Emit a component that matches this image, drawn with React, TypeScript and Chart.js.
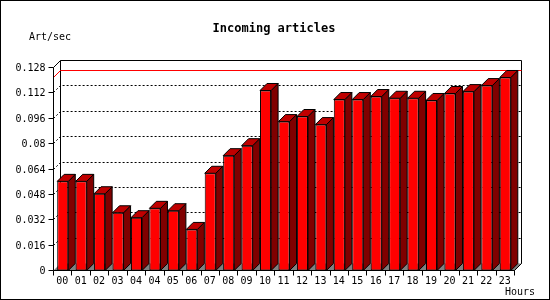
import React, { useEffect, useRef } from "react";
import { Chart, registerables } from "chart.js";

Chart.register(...registerables);

const categories = ["00", "01", "02", "03", "04", "04", "05", "06", "07", "08", "09", "10", "11", "12", "13", "14", "15", "16", "17", "18", "19", "20", "21", "22", "23"];
const artPerSec = [0.0562, 0.0562, 0.0484, 0.0364, 0.0333, 0.0392, 0.0377, 0.0259, 0.0613, 0.0724, 0.0787, 0.1135, 0.0939, 0.0971, 0.092, 0.1078, 0.1078, 0.1097, 0.1086, 0.1086, 0.1072, 0.1116, 0.1128, 0.1166, 0.1217];
const yTickValues = [0, 0.016, 0.032, 0.048, 0.064, 0.08, 0.096, 0.112, 0.128];
const yTickLabels = ["0", "0.016", "0.032", "0.048", "0.064", "0.08", "0.096", "0.112", "0.128"];
const titleText = "Incoming articles";
const yTitleText = "Art/sec";
const xTitleText = "Hours";

const D = 7;
const MONO = '"DejaVu Sans Mono", "Liberation Mono", monospace';
const crisp = (v: number) => Math.floor(v) + 0.5;

const threeD = {
  id: "threeD",
  beforeDraw(chart: any) {
    const ctx = chart.ctx;
    ctx.save();
    ctx.fillStyle = "#ffffff";
    ctx.fillRect(0, 0, chart.width, chart.height);
    ctx.restore();
  },
  beforeDatasetsDraw(chart: any) {
    const ctx = chart.ctx;
    const { left, right, top, bottom } = chart.chartArea;
    const ys = chart.scales.y;
    ctx.save();
    // floor
    ctx.fillStyle = "#808080";
    ctx.beginPath();
    ctx.moveTo(left, bottom);
    ctx.lineTo(left + D, bottom - D);
    ctx.lineTo(right + D, bottom - D);
    ctx.lineTo(right, bottom);
    ctx.closePath();
    ctx.fill();
    // dotted grid on back plane
    ctx.strokeStyle = "#000000";
    ctx.lineWidth = 1;
    ctx.setLineDash([2, 2]);
    for (let i = 1; i < yTickValues.length - 1; i++) {
      const py = crisp(ys.getPixelForValue(yTickValues[i]));
      ctx.beginPath();
      ctx.moveTo(left, py);
      ctx.lineTo(left + D, py - D);
      ctx.lineTo(right + D, py - D);
      ctx.stroke();
    }
    ctx.setLineDash([]);
    // back frame
    ctx.beginPath();
    ctx.moveTo(left + D, bottom - D);
    ctx.lineTo(left + D, top - D);
    ctx.lineTo(right + D, top - D);
    ctx.lineTo(right + D, bottom - D);
    ctx.lineTo(right, bottom);
    ctx.stroke();
    // max line
    const maxV = Math.max(...artPerSec);
    const my = crisp(ys.getPixelForValue(maxV));
    ctx.strokeStyle = "#ff0000";
    ctx.beginPath();
    ctx.moveTo(left, my);
    ctx.lineTo(left + D, my - D);
    ctx.lineTo(right + D, my - D);
    ctx.stroke();
    ctx.restore();
  },
  afterDatasetsDraw(chart: any) {
    const ctx = chart.ctx;
    const { left, right, top, bottom } = chart.chartArea;
    const ys = chart.scales.y;
    const xs = chart.scales.x;
    const meta = chart.getDatasetMeta(0);
    ctx.save();
    ctx.lineWidth = 1;
    ctx.strokeStyle = "#000000";
    meta.data.forEach((el: any) => {
      const p = el.getProps(["x", "y", "base", "width"], true);
      const x0 = p.x - p.width / 2;
      const x1 = p.x + p.width / 2;
      const yt = p.y;
      const yb = p.base;
      // side face
      ctx.fillStyle = "#800000";
      ctx.beginPath();
      ctx.moveTo(x1, yt);
      ctx.lineTo(x1 + D, yt - D);
      ctx.lineTo(x1 + D, yb - D);
      ctx.lineTo(x1, yb);
      ctx.closePath();
      ctx.fill();
      ctx.stroke();
      // top face
      ctx.fillStyle = "#c00000";
      ctx.beginPath();
      ctx.moveTo(x0, yt);
      ctx.lineTo(x0 + D, yt - D);
      ctx.lineTo(x1 + D, yt - D);
      ctx.lineTo(x1, yt);
      ctx.closePath();
      ctx.fill();
      ctx.stroke();
    });
    // axes
    ctx.beginPath();
    ctx.moveTo(left + D, top - D);
    ctx.lineTo(left, top);
    ctx.lineTo(left, bottom);
    ctx.lineTo(right, bottom);
    ctx.lineTo(right + D, bottom - D);
    ctx.stroke();
    // y ticks and labels
    ctx.fillStyle = "#000000";
    ctx.font = "10px " + MONO;
    ctx.textAlign = "right";
    ctx.textBaseline = "middle";
    yTickValues.forEach((v, i) => {
      const py = crisp(ys.getPixelForValue(v));
      ctx.beginPath();
      ctx.moveTo(left - 5, py);
      ctx.lineTo(left, py);
      ctx.stroke();
      ctx.fillText(yTickLabels[i], left - 8, py + 0.5);
    });
    // x ticks and labels
    const half = (xs.getPixelForValue(1) - xs.getPixelForValue(0)) / 2;
    for (let i = 0; i <= categories.length; i++) {
      const bx = crisp(xs.getPixelForValue(i) - half);
      ctx.beginPath();
      ctx.moveTo(bx, bottom);
      ctx.lineTo(bx, bottom + 5);
      ctx.stroke();
    }
    ctx.textAlign = "center";
    categories.forEach((c, i) => {
      ctx.fillText(c, xs.getPixelForValue(i) - 0.5, 281);
    });
    // titles
    ctx.textAlign = "left";
    ctx.fillText(yTitleText, 29, 37.5);
    ctx.textAlign = "right";
    ctx.fillText(xTitleText, 535, 292);
    ctx.font = "bold 12px " + MONO;
    ctx.textAlign = "center";
    ctx.fillText(titleText, 274, 28.5);
    // outer border
    ctx.strokeRect(0.5, 0.5, chart.width - 1, chart.height - 1);
    ctx.restore();
  },
};

export default function App() {
  const ref = useRef<HTMLCanvasElement | null>(null);
  useEffect(() => {
    if (!ref.current) return;
    const chart = new Chart(ref.current, {
      type: "bar",
      data: {
        labels: categories,
        datasets: [
          {
            data: artPerSec,
            backgroundColor: "#ff0000",
            borderColor: "#000000",
            borderWidth: 1,
            borderSkipped: false,
            barPercentage: 0.6,
            categoryPercentage: 1,
          },
        ],
      },
      options: {
        animation: false,
        responsive: false,
        maintainAspectRatio: false,
        devicePixelRatio: 1,
        layout: { padding: { left: 53.5, top: 67.5, right: 35.5, bottom: 29.5 } },
        plugins: { legend: { display: false }, title: { display: false }, tooltip: { enabled: false } },
        scales: {
          x: { display: false, offset: true },
          y: { display: false, min: 0, max: 0.128 },
        },
      },
      plugins: [threeD],
    });
    return () => chart.destroy();
  }, []);
  return (
    <div style={{ position: "fixed", left: 0, top: 0, width: 550, height: 300 }}>
      <canvas ref={ref} width={550} height={300} />
    </div>
  );
}
